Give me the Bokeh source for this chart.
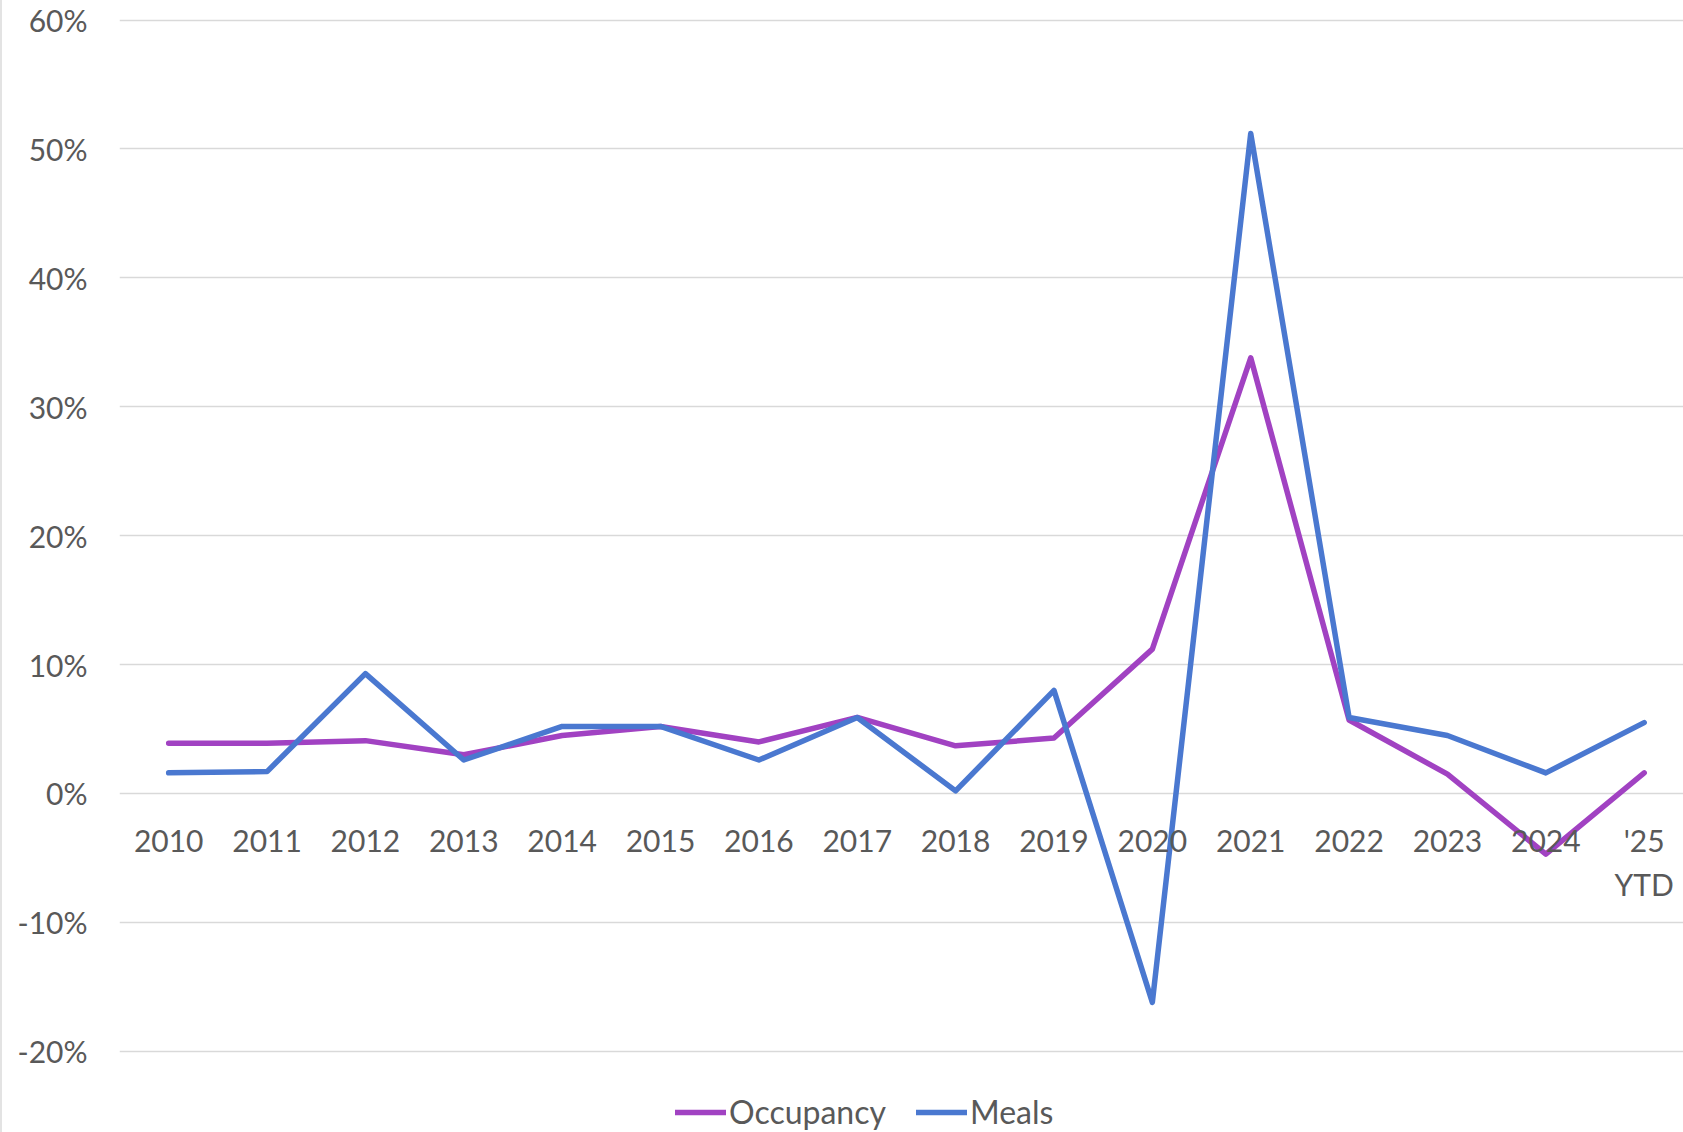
from bokeh.plotting import figure
from bokeh.models import Range1d, FixedTicker, Legend, LegendItem
from bokeh.embed import file_html
from bokeh.resources import INLINE

# Annual growth rates (%)
years = ["2010", "2011", "2012", "2013", "2014", "2015", "2016", "2017",
         "2018", "2019", "2020", "2021", "2022", "2023", "2024", "'25\nYTD"]
occupancy = [3.9, 3.9, 4.1, 3.0, 4.5, 5.2, 4.0, 5.9, 3.7, 4.3, 11.2, 33.8, 5.7, 1.5, -4.7, 1.6]
meals = [1.6, 1.7, 9.3, 2.6, 5.2, 5.2, 2.6, 5.9, 0.2, 8.0, -16.2, 51.2, 5.9, 4.5, 1.6, 5.5]
y_ticks = [-20, -10, 0, 10, 20, 30, 40, 50, 60]

FONT = "Lato"
TEXT = "#595959"
GRID = "#D9D9D9"
PURPLE = "#A142C2"
BLUE = "#4A78D0"

xs = list(range(len(years)))

p = figure(width=1683, height=1132, output_backend="svg", toolbar_location=None,
           min_border_left=117, min_border_right=0, min_border_top=0, min_border_bottom=0)
p.x_range = Range1d(-0.5, 15.42)
p.y_range = Range1d(-26.3, 61.52)
p.outline_line_color = None
p.background_fill_color = "white"
p.border_fill_color = "white"

# y axis: percentage labels, no line or ticks
p.yaxis.ticker = FixedTicker(ticks=y_ticks)
p.yaxis.major_label_overrides = {t: f"{t}%" for t in y_ticks}
p.yaxis.axis_line_color = None
p.yaxis.major_tick_line_color = None
p.yaxis.minor_tick_line_color = None
p.yaxis.major_label_standoff = 26
p.yaxis.major_label_text_font = FONT
p.yaxis.major_label_text_font_size = "30px"
p.yaxis.major_label_text_color = TEXT

# x axis pinned at the zero line
p.xaxis.fixed_location = 0
p.xaxis.ticker = FixedTicker(ticks=xs)
p.xaxis.major_label_overrides = {i: y for i, y in zip(xs, years)}
p.xaxis.axis_line_color = None
p.xaxis.major_tick_line_color = None
p.xaxis.minor_tick_line_color = None
p.xaxis.major_label_standoff = 23
p.xaxis.major_label_text_font = FONT
p.xaxis.major_label_text_font_size = "30px"
p.xaxis.major_label_text_color = TEXT

p.xgrid.grid_line_color = None
p.ygrid.ticker = FixedTicker(ticks=y_ticks)
p.ygrid.grid_line_color = GRID
p.ygrid.grid_line_width = 1.5

occ = p.line(xs, occupancy, line_color=PURPLE, line_width=5.5, line_join="round", line_cap="round")
mea = p.line(xs, meals, line_color=BLUE, line_width=5.5, line_join="round", line_cap="round")

legend = Legend(items=[LegendItem(label="Occupancy", renderers=[occ]),
                       LegendItem(label="Meals", renderers=[mea])],
                orientation="horizontal", location=(556, 1),
                glyph_width=51, glyph_height=20, label_standoff=3, spacing=30,
                padding=0, margin=0, border_line_color=None, background_fill_alpha=0,
                label_text_font=FONT, label_text_font_size="32px", label_text_color=TEXT)
p.add_layout(legend, "center")

p.styles = {"border-left": "2px solid #E3E3E3", "box-sizing": "border-box"}

open("out.html", "w").write(file_html(p, INLINE))
